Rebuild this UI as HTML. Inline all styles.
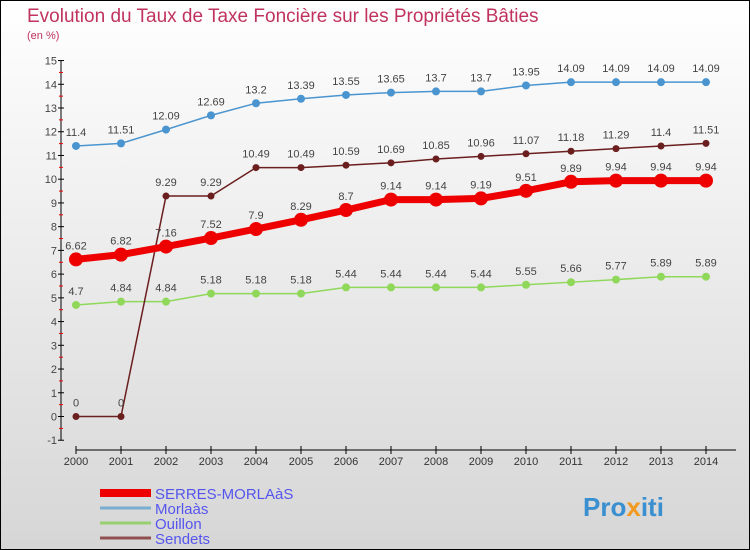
<!DOCTYPE html>
<html><head><meta charset="utf-8"><style>
html,body{margin:0;padding:0}
body{width:750px;height:550px;overflow:hidden;font-family:"Liberation Sans",sans-serif}
#c{position:absolute;left:0;top:0;width:748px;height:548px;border:1px solid #000;background:linear-gradient(#ffffff,#d6d6d6)}
</style></head><body>
<div id="c">
<svg id="s" width="750" height="550" style="position:absolute;left:-1px;top:-1px">
<text x="27" y="22" font-size="19" fill="#c0335f">Evolution du Taux de Taxe Foncière sur les Propriétés Bâties</text>
<text x="27" y="39" font-size="11" fill="#c0335f">(en %)</text>
<g id="axes"></g><g id="series"></g><g id="legend"></g>
<text x="583" y="516" font-size="26" font-weight="bold" fill="#3a8fd0">Pro<tspan fill="#f29a1f">x</tspan>iti</text>
</svg></div>
<script>
const years=[2000,2001,2002,2003,2004,2005,2006,2007,2008,2009,2010,2011,2012,2013,2014];
const serres=[6.62,6.82,7.16,7.52,7.9,8.29,8.7,9.14,9.14,9.19,9.51,9.89,9.94,9.94,9.94];
const morlaas=[11.4,11.51,12.09,12.69,13.2,13.39,13.55,13.65,13.7,13.7,13.95,14.09,14.09,14.09,14.09];
const ouillon=[4.7,4.84,4.84,5.18,5.18,5.18,5.44,5.44,5.44,5.44,5.55,5.66,5.77,5.89,5.89];
const sendets=[0,0,9.29,9.29,10.49,10.49,10.59,10.69,10.85,10.96,11.07,11.18,11.29,11.4,11.51];
const yTicks=[-1,0,1,2,3,4,5,6,7,8,9,10,11,12,13,14,15];
const NS="http://www.w3.org/2000/svg";
const X=i=>76+i*45, Y=v=>416.5-v*23.73;
function mk(p,t,a){const e=document.createElementNS(NS,t);for(const k in a)e.setAttribute(k,a[k]);p.appendChild(e);return e;}
const ax=document.getElementById('axes'),sg=document.getElementById('series'),lg=document.getElementById('legend');
let el=mk(ax,'line',{x1:61,y1:Y(15),x2:61,y2:Y(-1),stroke:'#000','stroke-width':1});


yTicks.forEach(v=>{
 let t=mk(ax,'line',{x1:58,x2:64,y1:Y(v),y2:Y(v),stroke:'#000'});
 
 
 if(v<15){let m=mk(ax,'line',{x1:59,x2:63,y1:Y(v+0.5),y2:Y(v+0.5),stroke:'#e00'});
 
 }
 let l=mk(ax,'text',{x:57,y:Y(v)+4,'text-anchor':'end','font-size':11,fill:'#444'});l.textContent=v;
 
 
});
el=mk(ax,'line',{x1:76,y1:450,x2:736,y2:450,stroke:'#000'});


years.forEach((y,i)=>{
 let t=mk(ax,'line',{x1:X(i),x2:X(i),y1:446,y2:454,stroke:'#000'});
 
 
 let l=mk(ax,'text',{x:X(i),y:465,'text-anchor':'middle','font-size':11,fill:'#333'});l.textContent=y;
 
 
});
function series(d,col,lw,r,name){
 const g=mk(sg,'g',{});
 
 
 let p=mk(g,'polyline',{points:d.map((v,i)=>X(i)+','+Y(v)).join(' '),fill:'none',stroke:col,'stroke-width':lw,'stroke-linejoin':'round'});
 
 
 d.forEach((v,i)=>{
  let c=mk(g,'circle',{cx:X(i),cy:Y(v),r:r,fill:col});
  
  
  let t=mk(g,'text',{x:X(i),y:Y(v)-10,'text-anchor':'middle','font-size':11,fill:'#444'});t.textContent=v;
  
  
 });
}
series(ouillon,'#8fd85a',1.5,4,'ouillon');
series(morlaas,'#4a95d0',1.5,4,'morlaas');
series(sendets,'#6b1e1e',1.5,3.5,'sendets');
series(serres,'#ee0000',7,7,'serres-morlaas');
const names=['SERRES-MORLAàS','Morlaàs','Ouillon','Sendets'],cols=['#ee0000','#7aaed0','#98d070','#905050'],ws=[8,3,3,3];
names.forEach((n,i)=>{
 const yy=493+i*15;
 let l=mk(lg,'line',{x1:100,x2:151,y1:yy,y2:yy,stroke:cols[i],'stroke-width':ws[i]});
 
 
 let t=mk(lg,'text',{x:155,y:yy+6,'font-size':15,fill:'#5555ee'});t.textContent=n;
 
 
});
</script></body></html>
